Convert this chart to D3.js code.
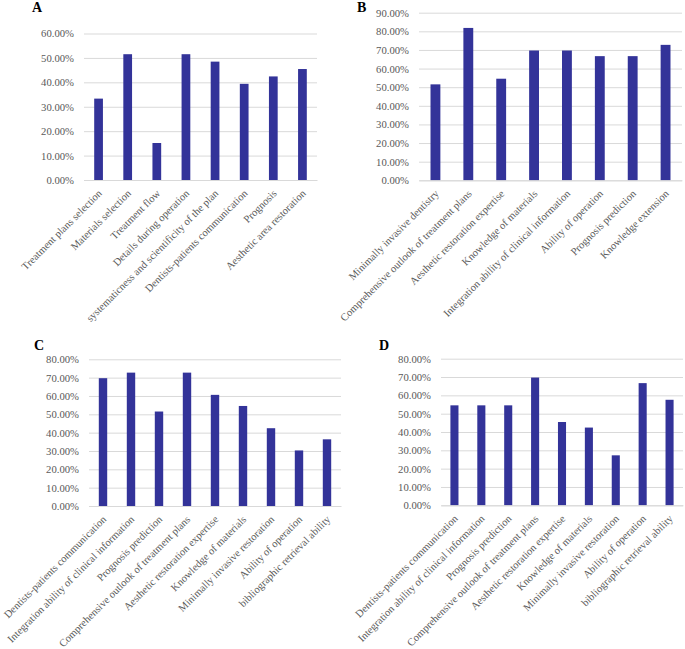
<!DOCTYPE html>
<html>
<head>
<meta charset="utf-8">
<script src="https://cdn.jsdelivr.net/npm/d3@7"></script>
<style>
  html, body { margin: 0; padding: 0; background: #fff; }
  svg { display: block; }
  text { font-family: "Liberation Serif", "Times New Roman", serif; }
</style>
</head>
<body>
<svg id="chart" width="685" height="649"></svg>
<script>
// ---- Data ----
const catsA = ["Treatment plans selection", "Materials selection", "Treatment flow", "Details during operation", "systematicness and scientificity of the plan", "Dentists-patients communication", "Prognosis", "Aesthetic area restoration"];
const valsA = [33.33, 51.52, 15.15, 51.52, 48.48, 39.39, 42.42, 45.45];
const ticksA = [0, 10, 20, 30, 40, 50, 60];

const catsB = ["Minimally invasive dentistry", "Comprehensive outlook of treatment plans", "Aesthetic restoration expertise", "Knowledge of materials", "Integration ability of clinical information", "Ability of operation", "Prognosis prediction", "Knowledge extension"];
const valsB = [51.52, 81.82, 54.55, 69.70, 69.70, 66.67, 66.67, 72.73];
const ticksB = [0, 10, 20, 30, 40, 50, 60, 70, 80, 90];

const catsC = ["Dentists-patients communication", "Integration ability of clinical information", "Prognosis prediction", "Comprehensive outlook of treatment plans", "Aesthetic restoration expertise", "Knowledge of materials", "Minimally invasive restoration", "Ability of operation", "bibliographic retrieval ability"];
const valsC = [69.70, 72.73, 51.52, 72.73, 60.61, 54.55, 42.42, 30.30, 36.36];
const ticksC = [0, 10, 20, 30, 40, 50, 60, 70, 80];

const catsD = ["Dentists-patients communication", "Integration ability of clinical information", "Prognosis prediction", "Comprehensive outlook of treatment plans", "Aesthetic restoration expertise", "Knowledge of materials", "Minimally invasive restoration", "Ability of operation", "bibliographic retrieval ability"];
const valsD = [54.55, 54.55, 54.55, 69.70, 45.45, 42.42, 27.27, 66.67, 57.58];
const ticksD = [0, 10, 20, 30, 40, 50, 60, 70, 80];

const panelLabels = ["A", "B", "C", "D"];

// ---- Layout ----
const panels = [
  { label: panelLabels[0], cats: catsA, vals: valsA, ticks: ticksA, left: 84,  right: 317, bottom: 180,   top: 33.5, lx: 32,  ly: 12 },
  { label: panelLabels[1], cats: catsB, vals: valsB, ticks: ticksB, left: 419, right: 682, bottom: 180.3, top: 12.7, lx: 357, ly: 12 },
  { label: panelLabels[2], cats: catsC, vals: valsC, ticks: ticksC, left: 89,  right: 341, bottom: 506,   top: 359.3, lx: 34, ly: 350 },
  { label: panelLabels[3], cats: catsD, vals: valsD, ticks: ticksD, left: 441, right: 683, bottom: 505.3, top: 358.7, lx: 379, ly: 350 }
];

const svg = d3.select("#chart");
const barColor = "#333399";
const gridColor = "#d9d9d9";
const textColor = "#595959";

panels.forEach(p => {
  const g = svg.append("g");
  const x = d3.scaleBand().domain(p.cats).range([p.left, p.right]).padding(0);
  const maxT = p.ticks[p.ticks.length - 1];
  const y = d3.scaleLinear().domain([0, maxT]).range([p.bottom, p.top]);

  // gridlines + y tick labels
  const yAxis = d3.axisLeft(y).tickValues(p.ticks)
    .tickSize(-(p.right - p.left)).tickPadding(10)
    .tickFormat(d => d.toFixed(2) + "%");
  const ya = g.append("g").attr("transform", `translate(${p.left},0)`).call(yAxis);
  ya.select(".domain").remove();
  ya.selectAll(".tick line").attr("stroke", gridColor).attr("stroke-width", 1);
  ya.selectAll(".tick text").attr("fill", textColor).style("font-size", "10.7px")
    .style("font-family", "'Liberation Serif', 'Times New Roman', serif");

  // bars
  const bw = x.step() * 0.30;
  g.selectAll("rect.bar").data(p.vals).enter().append("rect")
    .attr("class", "bar")
    .attr("x", (d, i) => x(p.cats[i]) + x.bandwidth() / 2 - bw / 2)
    .attr("width", bw)
    .attr("y", d => y(d))
    .attr("height", d => y(0) - y(d))
    .attr("fill", barColor);

  // x axis labels
  const xAxis = d3.axisBottom(x).tickSize(0).tickPadding(0);
  const xa = g.append("g").attr("transform", `translate(0,${p.bottom})`).call(xAxis);
  xa.select(".domain").attr("stroke", gridColor);
  xa.selectAll(".tick text")
    .attr("fill", textColor)
    .style("font-size", "10.6px")
    .style("font-family", "'Liberation Serif', 'Times New Roman', serif")
    .attr("text-anchor", "end")
    .attr("dy", 0)
    .attr("y", 0)
    .attr("transform", "translate(4,14) rotate(-45)");

  // panel letter
  svg.append("text").attr("x", p.lx).attr("y", p.ly)
    .attr("font-weight", "bold").attr("font-size", "14px").attr("fill", "#000")
    .text(p.label);
});
</script>
</body>
</html>
